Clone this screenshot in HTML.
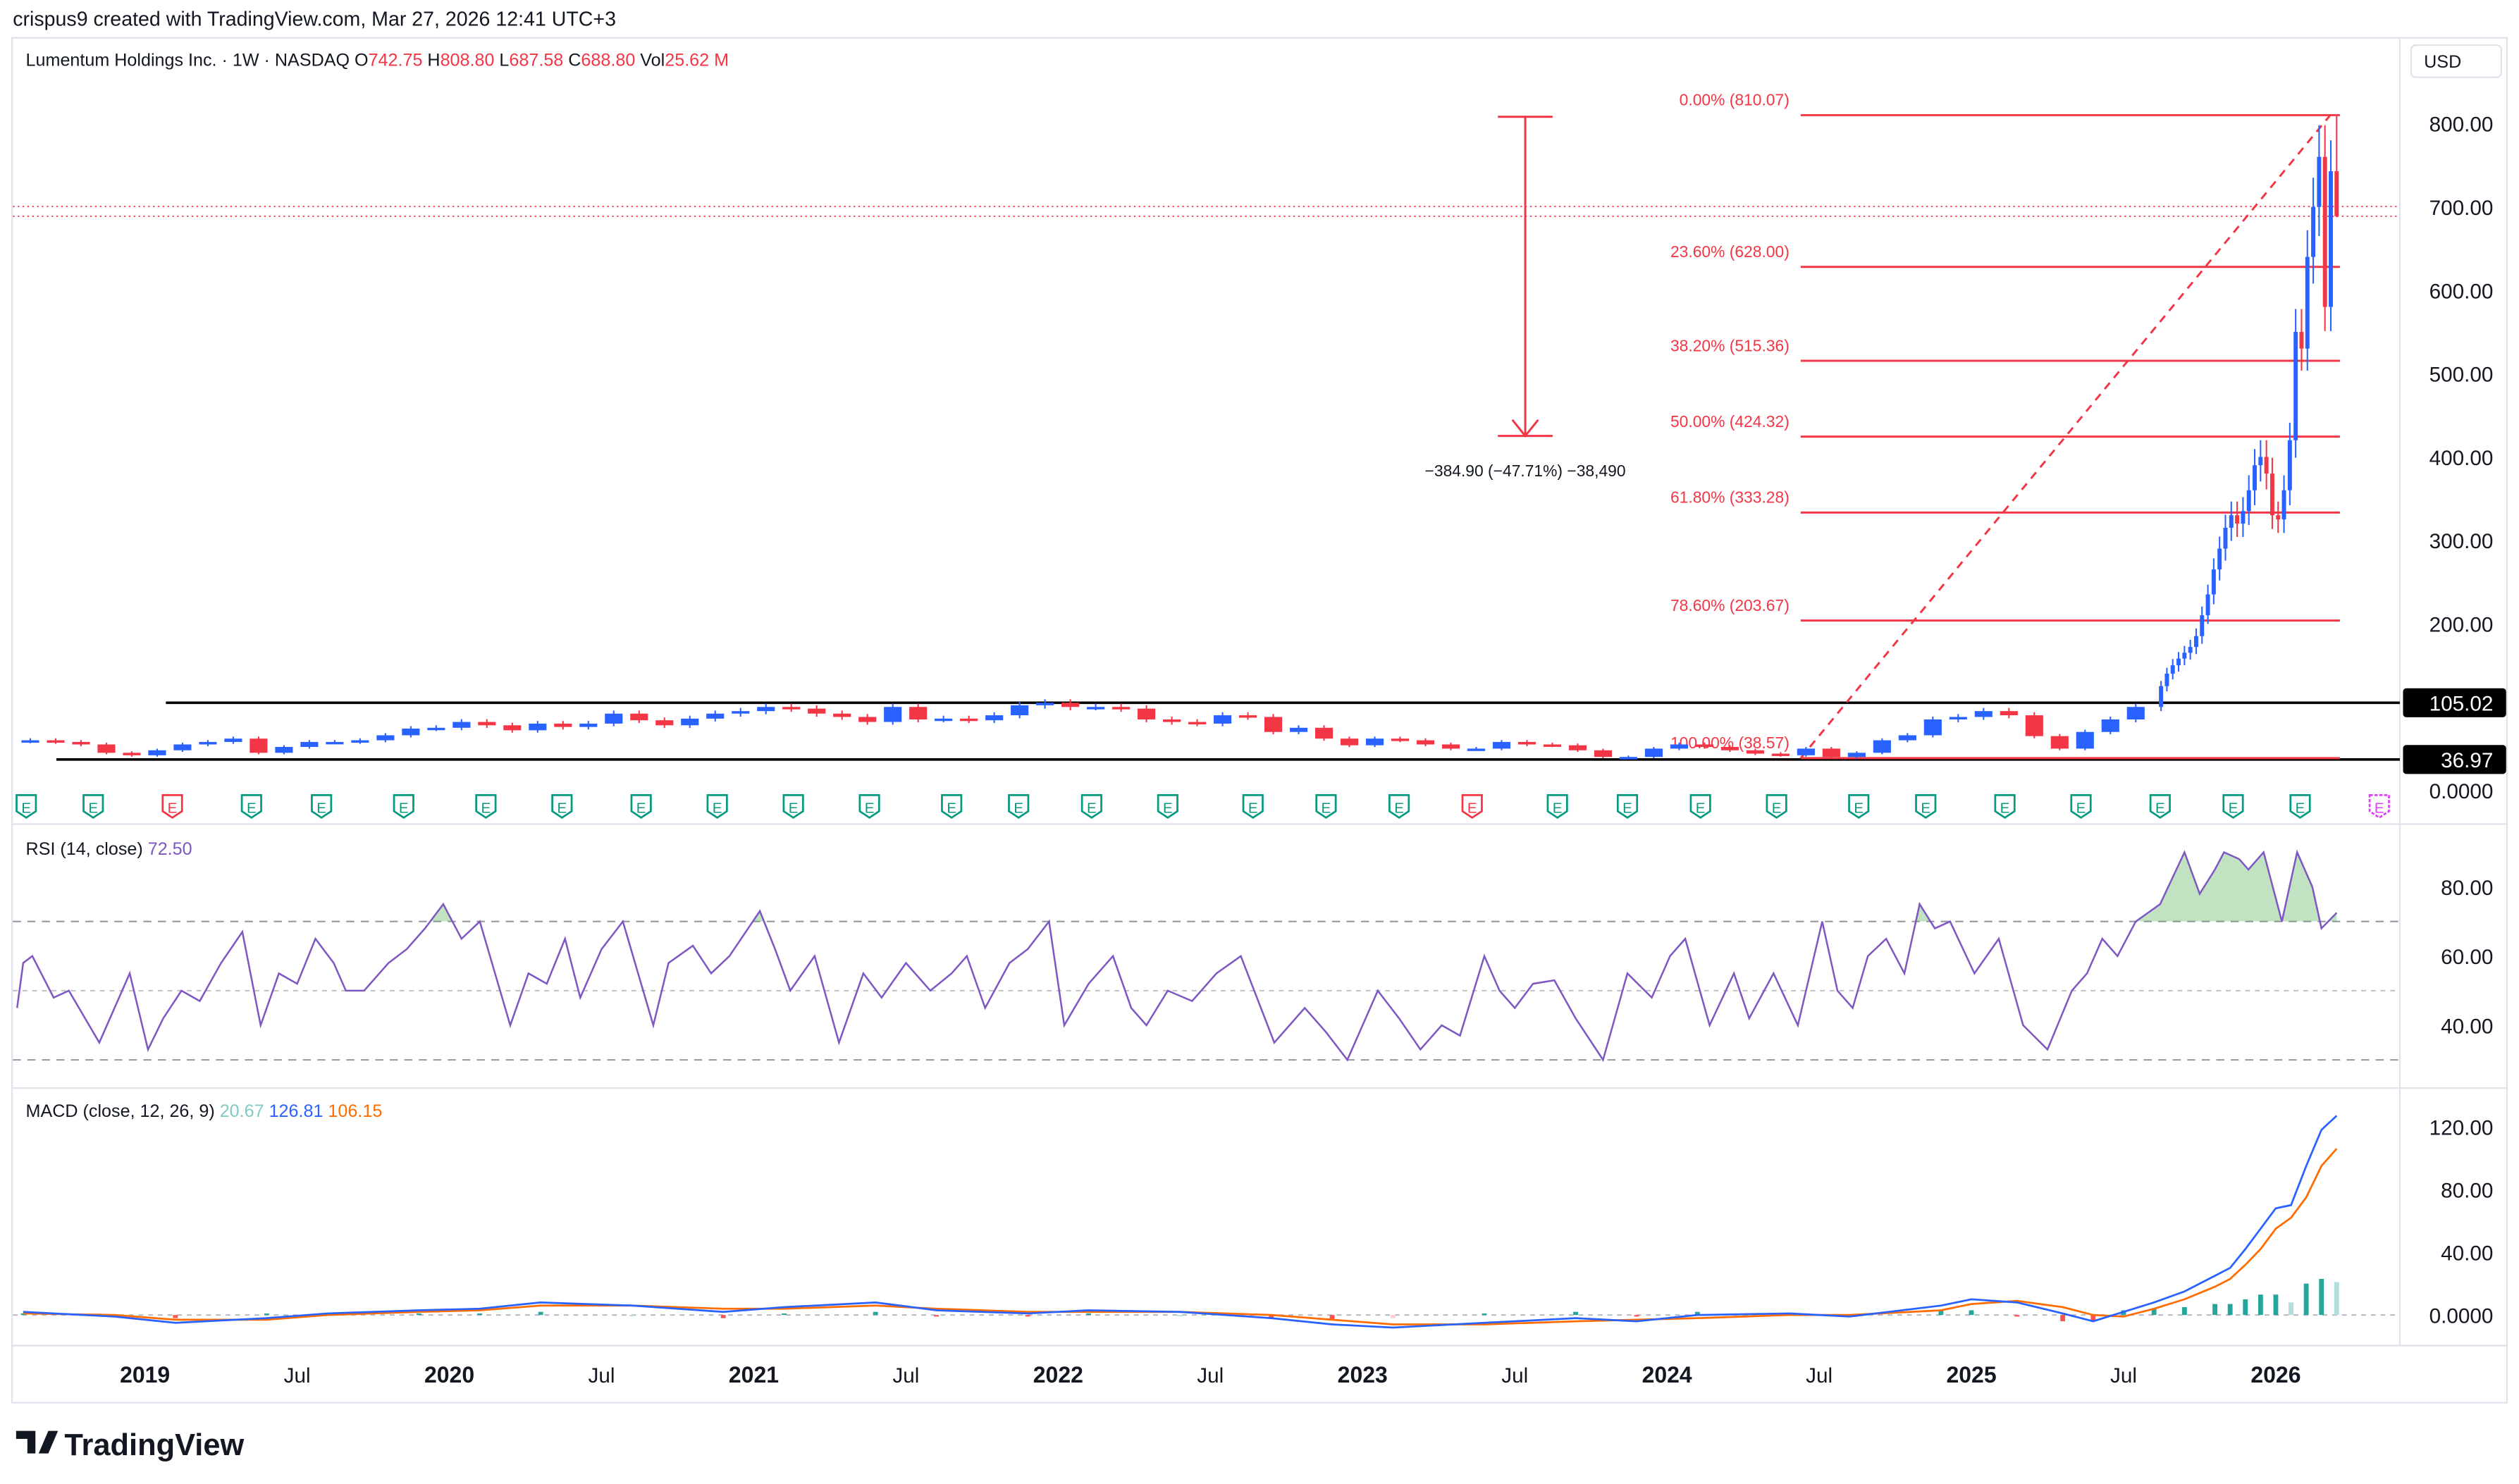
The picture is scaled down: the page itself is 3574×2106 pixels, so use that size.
<!DOCTYPE html>
<html><head><meta charset="utf-8">
<style>
html,body{margin:0;padding:0;background:#fff;}
svg{display:block;font-family:"Liberation Sans",sans-serif;}
</style></head>
<body>
<svg id="chart" width="3574" height="2106" viewBox="0 0 1564 922" preserveAspectRatio="none" xmlns="http://www.w3.org/2000/svg">
<rect x="0" y="0" width="1564" height="922" fill="#fff"/>
<text x="8" y="16" font-size="12.5" fill="#131722">crispus9 created with TradingView.com, Mar 27, 2026 12:41 UTC+3</text>
<rect x="7.5" y="23.5" width="1549" height="848" fill="none" stroke="#e0e3eb"/>
<line x1="8" y1="512" x2="1556" y2="512" stroke="#e0e3eb"/>
<line x1="8" y1="676" x2="1556" y2="676" stroke="#e0e3eb"/>
<line x1="8" y1="836" x2="1556" y2="836" stroke="#e0e3eb"/>
<line x1="1490" y1="24" x2="1490" y2="836" stroke="#e0e3eb"/>
<text x="16" y="41" font-size="11" fill="#131722">Lumentum Holdings Inc. · 1W · NASDAQ  O<tspan fill="#f23645">742.75</tspan>  H<tspan fill="#f23645">808.80</tspan>  L<tspan fill="#f23645">687.58</tspan>  C<tspan fill="#f23645">688.80</tspan>  Vol<tspan fill="#f23645">25.62 M</tspan></text>
<g><rect x="1497" y="28" width="56" height="20" rx="3" fill="#fff" stroke="#e0e3eb"/><text x="1505" y="42" font-size="11" fill="#131722">USD</text></g>
<g id="main"></g><g id="rsi"></g><g id="macd"></g><g id="axes"></g>
<text x="16" y="531" font-size="11" fill="#131722">RSI (14, close) <tspan fill="#7e57c2">72.50</tspan></text>
<text x="16" y="694" font-size="11" fill="#131722">MACD (close, 12, 26, 9) <tspan fill="#80cbc4">20.67</tspan> <tspan fill="#2962ff">126.81</tspan> <tspan fill="#ff6d00">106.15</tspan></text>
<g><path d="M10 889h12v14h-5v-9h-7z M24 903l6-14h6l-6 14z" fill="#131722"/><text x="40" y="904" font-size="19" font-weight="bold" fill="#131722">TradingView</text></g>
</svg>
<script>
// ---- data ----
const monthlyStart = 2018 + 7/12; // Aug 2018
const monthlyCloses = [60,58,55,45,42,
48,55,58,62,45,52,58,58,60,66,74,75,
82,78,72,80,76,80,92,84,78,86,92,95,
100,98,92,88,82,100,85,86,84,90,102,105,
100,100,98,85,82,80,90,88,70,75,62,54,
62,60,55,50,50,58,55,54,48,40,40,50,
55,52,48,44,42,50,40,45,60,66,85,88,
95,90,65,50,70,85,100];
const weeklyStart = 2025.623;
const weeklyCloses = [125,140,150,158,165,172,185,210,235,265,290,315,330,320,335,360,390,400,380,330,325,360,420,550,530,640,700,760,580,742.75,688.8];
const fibLevels = [0,23.6,38.2,50,61.8,78.6,100];
const fibPrices = [810.07,628.00,515.36,424.32,333.28,203.67,38.57];
const hLines = [105.02,36.97];
const priceTicks = [800,700,600,500,400,300,200];
const rsiDates = [2018.58,2018.60,2018.63,2018.70,2018.75,2018.85,2018.90,2018.95,2019.01,2019.06,2019.12,2019.18,2019.25,2019.32,2019.38,2019.44,2019.50,2019.56,2019.62,2019.66,2019.72,2019.80,2019.86,2019.92,2019.98,2020.04,2020.10,2020.20,2020.26,2020.32,2020.38,2020.43,2020.50,2020.57,2020.67,2020.72,2020.80,2020.86,2020.92,2021.02,2021.07,2021.12,2021.20,2021.28,2021.36,2021.42,2021.50,2021.58,2021.65,2021.70,2021.76,2021.84,2021.90,2021.97,2022.02,2022.10,2022.18,2022.24,2022.29,2022.36,2022.44,2022.52,2022.60,2022.71,2022.76,2022.81,2022.88,2022.95,2023.05,2023.12,2023.19,2023.26,2023.32,2023.40,2023.45,2023.50,2023.56,2023.63,2023.70,2023.79,2023.87,2023.95,2024.01,2024.06,2024.14,2024.22,2024.27,2024.35,2024.43,2024.51,2024.56,2024.61,2024.66,2024.72,2024.78,2024.83,2024.88,2024.93,2025.01,2025.09,2025.17,2025.25,2025.33,2025.38,2025.43,2025.48,2025.54,2025.62,2025.70,2025.75,2025.80,2025.83,2025.88,2025.91,2025.96,2026.02,2026.07,2026.12,2026.15,2026.20];
const rsiVals = [45,58,60,48,50,35,45,55,33,42,50,47,58,67,40,55,52,65,58,50,50,58,62,68,75,65,70,40,55,52,65,48,62,70,40,58,63,55,60,73,62,50,60,35,55,48,58,50,55,60,45,58,62,70,40,52,60,45,40,50,47,55,60,35,40,45,38,30,50,42,33,40,37,60,50,45,52,53,42,30,55,48,60,65,40,55,42,55,40,70,50,45,60,65,55,75,68,70,55,65,40,33,50,55,65,60,70,75,90,78,85,90,88,85,90,70,90,80,68,72.5];
const rsiTicks = [80,60,40];
const macdDates = [2018.6,2018.9,2019.1,2019.4,2019.6,2019.9,2020.1,2020.3,2020.6,2020.9,2021.1,2021.4,2021.6,2021.9,2022.1,2022.4,2022.7,2022.9,2023.1,2023.4,2023.7,2023.9,2024.1,2024.4,2024.6,2024.9,2025.0,2025.15,2025.3,2025.4,2025.5,2025.6,2025.7,2025.8,2025.85,2025.9,2025.95,2026.0,2026.05,2026.1,2026.15,2026.2];
const macdVals = [2,-1,-5,-2,1,3,4,8,6,2,5,8,3,1,3,2,-2,-6,-8,-5,-2,-4,0,1,-1,6,10,8,1,-4,2,8,15,25,30,42,55,68,70,95,118,127];
const signalVals = [1,0,-3,-3,0,2,3,6,6,4,4,6,4,2,2,2,0,-3,-6,-6,-4,-3,-2,0,0,3,7,9,5,0,-1,4,10,18,23,32,42,55,62,75,95,106];
const macdTicks = [120,80,40,0];
const timeLabels = ["2019","Jul","2020","Jul","2021","Jul","2022","Jul","2023","Jul","2024","Jul","2025","Jul","2026"];
const timeDates = [2019,2019.5,2020,2020.5,2021,2021.5,2022,2022.5,2023,2023.5,2024,2024.5,2025,2025.5,2026];
const earnDates = [2018.61,2018.83,2019.09,2019.35,2019.58,2019.85,2020.12,2020.37,2020.63,2020.88,2021.13,2021.38,2021.65,2021.87,2022.11,2022.36,2022.64,2022.88,2023.12,2023.36,2023.64,2023.87,2024.11,2024.36,2024.63,2024.85,2025.11,2025.36,2025.62,2025.86,2026.08,2026.34];
const earnType = ["g","g","r","g","g","g","g","g","g","g","g","g","g","g","g","g","g","g","g","r","g","g","g","g","g","g","g","g","g","g","g","f"];

// ---- scales ----
const NS="http://www.w3.org/2000/svg";
const X = t => 1413 + (t-2026)*189;
const PY = v => 491 - v*0.5178;
const RY = v => 637 - (v-40)*2.15;
const MY = v => 817 - v*0.975;
function mk(tag, attrs, parent, text){const e=document.createElementNS(NS,tag);for(const k in attrs)e.setAttribute(k,attrs[k]);if(text!==undefined)e.textContent=text;parent.appendChild(e);return e;}
const main=document.getElementById('main'), rsiG=document.getElementById('rsi'), macdG=document.getElementById('macd'), axes=document.getElementById('axes');
const UP="#2962ff", DN="#f23645";

// horizontal black lines
hLines.forEach((v,i)=>{
  const l=mk('line',{x1:i===0?103:35,x2:1490,y1:PY(v),y2:PY(v),stroke:'#000','stroke-width':1.6},main);
  
  
  const g=mk('g',{},axes);
  
  
  mk('rect',{x:1492,y:PY(v)-9,width:64,height:18,fill:'#000',rx:2},g);
  mk('text',{x:1548,y:PY(v)+5,'font-size':13,fill:'#fff','text-anchor':'end'},g,v.toFixed(2));
});
// current price dotted lines
[700.5,688.8].forEach((v,i)=>{
  const l=mk('line',{x1:8,x2:1490,y1:PY(v),y2:PY(v),stroke:DN,'stroke-width':0.8,'stroke-dasharray':'1 2'},main);
  
  
});

// fib
const fx1=1118, fx2=X(2026.2)+2;
fibLevels.forEach((lv,i)=>{
  const y=PY(fibPrices[i]);
  const l=mk('line',{x1:fx1,x2:fx2,y1:y,y2:y,stroke:DN,'stroke-width':1.3},main);
  
  
  const t=mk('text',{x:fx1-7,y:y-6,'font-size':10,fill:DN,'text-anchor':'end'},main,lv.toFixed(2)+'% ('+fibPrices[i].toFixed(2)+')');
  
  
});
const diag=mk('line',{x1:fx1,y1:PY(fibPrices[6]),x2:fx2-6,y2:PY(fibPrices[0]),stroke:DN,'stroke-width':1.3,'stroke-dasharray':'5 4'},main);



// measure arrow
const mg=mk('g',{},main);


const mTop=PY(810.07)+1, mBot=PY(425.17);
mk('line',{x1:930,x2:964,y1:mTop,y2:mTop,stroke:DN,'stroke-width':1.3},mg);
mk('line',{x1:930,x2:964,y1:mBot,y2:mBot,stroke:DN,'stroke-width':1.3},mg);
mk('line',{x1:947,x2:947,y1:mTop,y2:mBot,stroke:DN,'stroke-width':1.3},mg);
mk('path',{d:`M939 ${mBot-10}L947 ${mBot}L955 ${mBot-10}`,stroke:DN,fill:'none','stroke-width':1.3},mg);
mk('text',{x:947,y:mBot+25,'font-size':10,fill:'#131722','text-anchor':'middle'},mg,'−384.90 (−47.71%) −38,490');

// candles
function candle(t,o,c,h,l,w,i){
  const col=c>=o?UP:DN;const x=X(t);
  const g=mk('g',{},main);
  
  
  mk('line',{x1:x,x2:x,y1:PY(h),y2:PY(l),stroke:col,'stroke-width':0.9},g);
  const y1=PY(Math.max(o,c)),y2=PY(Math.min(o,c));
  mk('rect',{x:x-w/2,y:y1,width:w,height:Math.max(1.5,y2-y1),fill:col},g);
}
let prev=monthlyCloses[0]*0.98;
monthlyCloses.forEach((c,i)=>{
  const t=monthlyStart+i/12+0.04;
  candle(t,prev,c,Math.max(prev,c)*1.04,Math.min(prev,c)*0.96,11,i);
  prev=c;
});
weeklyCloses.forEach((c,i)=>{
  const t=weeklyStart+i/52;
  let o=prev,h=Math.max(o,c)*1.05,l=Math.min(o,c)*0.95;
  if(i===weeklyCloses.length-1){h=808.8;l=687.58;}
  candle(t,o,c,h,l,2.6,'w'+i);
  prev=c;
});

// earnings
earnDates.forEach((t,i)=>{
  const x=X(t), ty=earnType[i];
  const col=ty==='r'?DN:(ty==='f'?'#e040fb':'#089981');
  const g=mk('g',{},main);
  
  
  mk('path',{d:`M${x-6} ${494}h12v10l-6 4l-6-4z`,fill:'#fff',stroke:col,'stroke-width':1.2,'stroke-dasharray':ty==='f'?'2 1':'none'},g);
  mk('text',{x:x,y:505,'font-size':9,fill:col,'text-anchor':'middle'},g,'E');
});

// price axis
priceTicks.forEach(v=>{
  const t=mk('text',{x:1548,y:PY(v)+5,'font-size':13,fill:'#131722','text-anchor':'end'},axes,v.toFixed(2));
  
  
});
const z=mk('text',{x:1548,y:PY(0)+5,'font-size':13,fill:'#131722','text-anchor':'end'},axes,'0.0000');



// RSI
[70,50,30].forEach(v=>{
  const l=mk('line',{x1:8,x2:1490,y1:RY(v),y2:RY(v),stroke:'#9598a1','stroke-width':0.9,'stroke-dasharray':v===50?'3 3':'5 4',opacity:v===50?0.6:1},rsiG);
  
  
});
const rpts=rsiDates.map((t,i)=>X(t)+','+RY(rsiVals[i])).join(' ');
const cp=mk('clipPath',{id:'above70'},rsiG);
mk('rect',{x:0,y:500,width:1564,height:RY(70)-500},cp);
const fillPts=X(rsiDates[0])+','+RY(70)+' '+rpts+' '+X(rsiDates[rsiDates.length-1])+','+RY(70);
const rf=mk('polygon',{points:fillPts,fill:'#4caf50','fill-opacity':0.35,'clip-path':'url(#above70)'},rsiG);


const rl=mk('polyline',{points:rpts,fill:'none',stroke:'#7e57c2','stroke-width':1.1},rsiG);


rsiTicks.forEach(v=>{
  const t=mk('text',{x:1548,y:RY(v)+5,'font-size':13,fill:'#131722','text-anchor':'end'},axes,v.toFixed(2));
  
  
});

// MACD
const zl=mk('line',{x1:8,x2:1490,y1:MY(0),y2:MY(0),stroke:'#b2b5be','stroke-width':0.8,'stroke-dasharray':'3 3'},macdG);


macdDates.forEach((t,i)=>{
  const h=macdVals[i]-signalVals[i];
  const ph=i>0?macdVals[i-1]-signalVals[i-1]:0;
  const col=h>=0?(h>=ph?'#26a69a':'#b2dfdb'):(h<=ph?'#ff5252':'#ffcdd2');
  const y1=Math.min(MY(0),MY(h)),y2=Math.max(MY(0),MY(h));
  const b=mk('rect',{x:X(t)-1.5,y:y1,width:3,height:Math.max(0.8,y2-y1),fill:col},macdG);
  
  
});
const sl=mk('polyline',{points:macdDates.map((t,i)=>X(t)+','+MY(signalVals[i])).join(' '),fill:'none',stroke:'#ff6d00','stroke-width':1.2},macdG);


const ml=mk('polyline',{points:macdDates.map((t,i)=>X(t)+','+MY(macdVals[i])).join(' '),fill:'none',stroke:'#2962ff','stroke-width':1.2},macdG);


macdTicks.forEach(v=>{
  const t=mk('text',{x:1548,y:MY(v)+5,'font-size':13,fill:'#131722','text-anchor':'end'},axes,v===0?'0.0000':v.toFixed(2));
  
  
});

// time axis
timeDates.forEach((t,i)=>{
  const isYear=timeLabels[i]!=='Jul';
  const e=mk('text',{x:X(t),y:859,'font-size':isYear?14:13,'font-weight':isYear?'bold':'normal',fill:'#131722','text-anchor':'middle'},axes,timeLabels[i]);
  
  
});
</script>
</body></html>
